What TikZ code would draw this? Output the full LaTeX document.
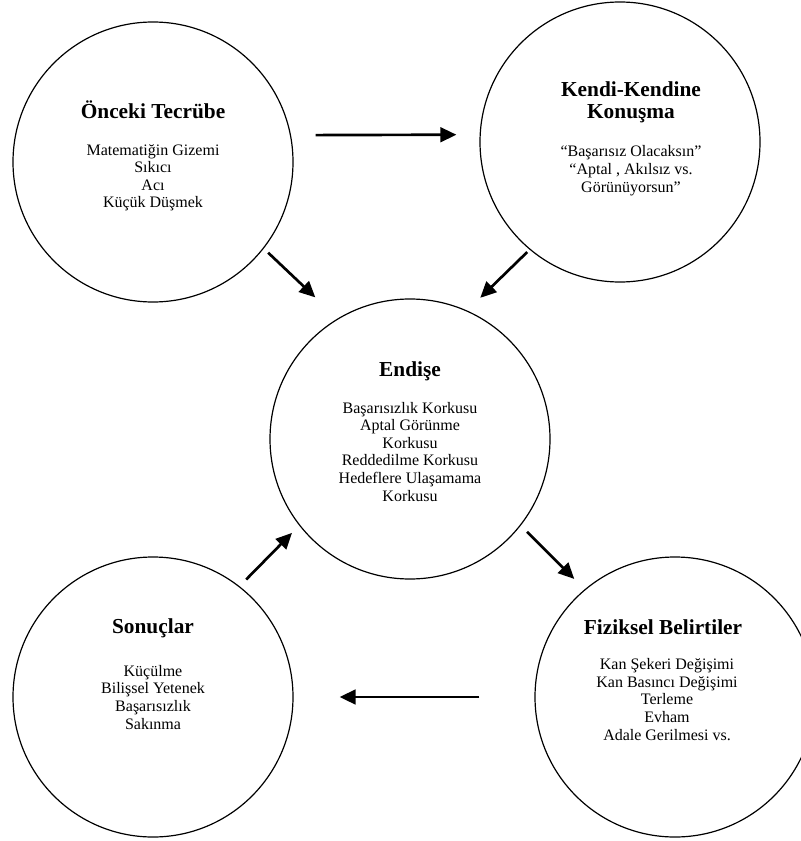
\documentclass[tikz,border=0pt]{standalone}
\usepackage{fontspec}
\setmainfont{Liberation Serif}
\usetikzlibrary{arrows.meta,positioning}

\begin{document}
\begin{tikzpicture}[
  x=0.75pt, y=-0.75pt,
  blob/.style={circle, draw, line width=0.9pt, minimum size=210pt, inner sep=0pt},
  head/.style={font=\fontsize{16}{16.5}\selectfont\bfseries, align=center, inner sep=0pt, anchor=base},
  body/.style={font=\fontsize{12}{13.2}\selectfont, align=center, inner sep=0pt},
  flow/.style={-{Triangle[length=12pt,width=11pt]}, line width=2pt},
]
\useasboundingbox (0,0) rectangle (800,841);

% circles
\node[blob] (tecrube) at (153,162) {};
\node[blob] (konusma) at (620,142) {};
\node[blob] (endise) at (410,439) {};
\node[blob] (sonuc) at (153,697) {};
\node[blob] (belirti) at (675,697) {};

% texts (base = last line)
\node[head] (tecrube-h) at (153,119) {Önceki Tecrübe};
\node[body, below=66.7pt of tecrube-h.base, anchor=base] (tecrube-b) {Matematiğin Gizemi\\Sıkıcı\\Acı\\Küçük Düşmek};
\node[head] (konusma-h) at (631,119) {Kendi-Kendine\\Konuşma};
\node[body, below=54.8pt of konusma-h.base, anchor=base] (konusma-b) {“Başarısız Olacaksın”\\“Aptal , Akılsız vs.\\Görünüyorsun”};
\node[head] (endise-h) at (410,376) {Endişe};
\node[body, below=93.8pt of endise-h.base, anchor=base] (endise-b) {Başarısızlık Korkusu\\Aptal Görünme\\Korkusu\\Reddedilme Korkusu\\Hedeflere Ulaşamama\\Korkusu};
\node[head] (sonuc-h) at (153,633) {Sonuçlar};
\node[body, below=72pt of sonuc-h.base, anchor=base] (sonuc-b) {Küçülme\\Bilişsel Yetenek\\Başarısızlık\\Sakınma};
\node[head] (belirti-h) at (663,634) {Fiziksel Belirtiler};
\node[body, below=79.5pt of belirti-h.base, anchor=base, xshift=3pt] (belirti-b) {Kan Şekeri Değişimi\\Kan Basıncı Değişimi\\Terleme\\Evham\\Adale Gerilmesi vs.};

% arrows
\draw[flow, shorten <=18.5pt, shorten >=17.4pt] (tecrube.11) -- (konusma.177);
\draw[flow, shorten <=4.5pt, shorten >=23pt] (tecrube.-38) -- (endise.121.5);
\draw[flow, shorten <=2.6pt, shorten >=13.7pt] (konusma.230.3) -- (endise.66.6);
\draw[flow, shorten <=6.6pt, shorten >=11pt] (endise.-38.3) -- (belirti.130.4);
\draw[flow, shorten <=41.3pt, shorten >=34.5pt] (belirti.west) -- (sonuc.east);
\draw[flow, shorten <=7.1pt, shorten >=7.7pt] (sonuc.52) -- (endise.218.3);
\end{tikzpicture}
\end{document}
